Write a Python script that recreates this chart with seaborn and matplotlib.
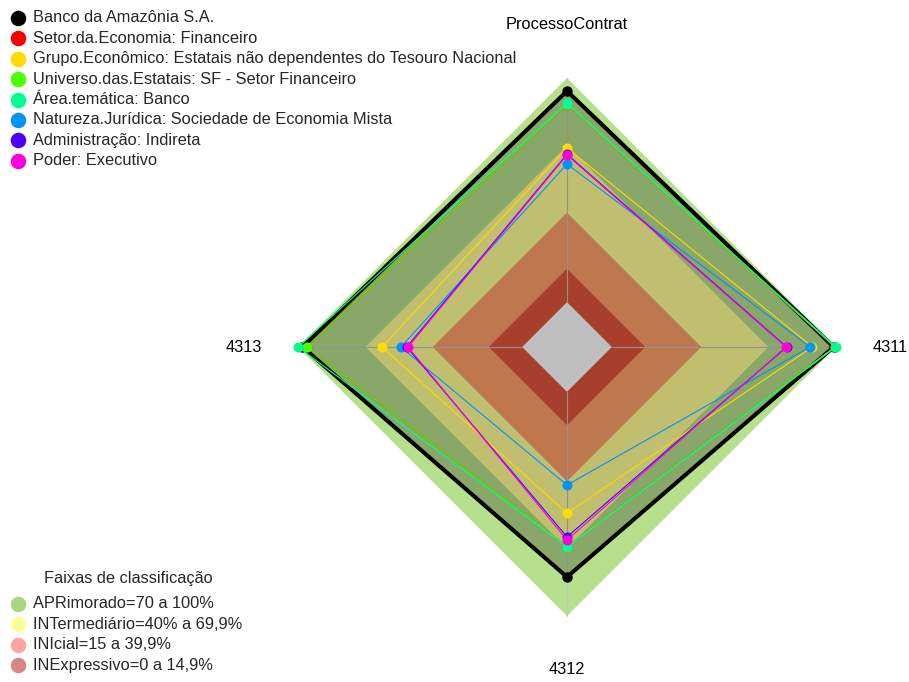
import numpy as np
import pandas as pd
import matplotlib
matplotlib.use("Agg")
import matplotlib.pyplot as plt
import seaborn as sns

# Eixos do radar (sentido horário a partir do topo)
eixos = ["ProcessoContrat", "4311", "4312", "4313"]

# Séries comparadas (percentual de atendimento por eixo)
nomes_series = [
    "Banco da Amazônia S.A.",
    "Setor.da.Economia: Financeiro",
    "Grupo.Econômico: Estatais não dependentes do Tesouro Nacional",
    "Universo.das.Estatais: SF - Setor Financeiro",
    "Área.temática: Banco",
    "Natureza.Jurídica: Sociedade de Economia Mista",
    "Administração: Indireta",
    "Poder: Executivo",
]
banco_amazonia = [94.2, 99.0, 82.6, 98.0]
setor_economia = [88.4, 99.5, 69.0, 96.0]
grupo_economico = [68.8, 89.5, 54.1, 62.5]
universo_estatais = [88.4, 99.5, 69.0, 96.0]
area_tematica = [88.8, 100.0, 69.2, 100.0]
natureza_juridica = [61.6, 88.4, 41.6, 54.1]
administracao = [66.0, 78.0, 64.7, 51.5]
poder = [65.6, 77.7, 66.1, 50.9]
valores_series = [banco_amazonia, setor_economia, grupo_economico, universo_estatais,
                  area_tematica, natureza_juridica, administracao, poder]
cores_series = ["#000000", "#FF0000", "#FFDB00", "#49FF00",
                "#00FF92", "#0092FF", "#4900FF", "#FF00DB"]

# Faixas de classificação
faixas_nomes = ["APRimorado=70 a 100%", "INTermediário=40% a 69,9%",
                "INIcial=15 a 39,9%", "INExpressivo=0 a 14,9%"]
faixas_limites = [100, 69.9, 39.9, 14.9]
faixas_cores = ["#B6E08B", "#FFFF95", "#FFA06B", "#E0553B"]
faixas_cores_legenda = ["#A9D77F", "#FFFF99", "#FFA3A3", "#D98686"]

sns.set_theme(style="white")
plt.rcParams["font.family"] = ["Liberation Sans", "DejaVu Sans"]

W, H = 909, 682
CX, CY, R = 567, 347, 269          # centro e raio do radar em pixels
SEG = 5                            # segmentos do eixo (centro vazio = 1/(SEG+1))
FS = 11.8

fig = plt.figure(figsize=(W / 100, H / 100), dpi=100)
ax = fig.add_axes([0, 0, 1, 1])


def raio(v):
    v = np.asarray(v, dtype=float)
    return (1 + SEG * v / 100) / (SEG + 1)


n = len(eixos)
theta = np.pi / 2 - np.arange(n) * 2 * np.pi / n


def xy(valores):
    r = raio(valores)
    return r * np.cos(theta), r * np.sin(theta)


def px(x, y):
    return (x - CX) / R, (CY - y) / R


# Faixas de fundo
for lim, cor in zip(faixas_limites, faixas_cores):
    x, y = xy([lim] * n)
    ax.fill(x, y, color=cor, lw=0, zorder=1)
x0, y0 = xy([0] * n)
ax.fill(x0, y0, color="white", lw=0, zorder=1)

# Eixos
r0 = raio(0)
for t in theta:
    ax.plot([r0 * np.cos(t), np.cos(t)], [r0 * np.sin(t), np.sin(t)],
            color="#C4C4C4", lw=0.8, zorder=2)

# Preenchimento da série principal
xb, yb = xy(banco_amazonia)
ax.fill(xb, yb, color="black", alpha=0.25, lw=0, zorder=3)

# Linhas e pontos das séries
linhas = []
for nome, vals in zip(nomes_series, valores_series):
    x, y = xy(vals)
    for xi, yi, eixo in zip(x, y, eixos):
        linhas.append({"serie": nome, "eixo": eixo, "x": xi, "y": yi})
df = pd.DataFrame(linhas)

for i, (nome, cor) in enumerate(zip(nomes_series, cores_series)):
    sub = df[df["serie"] == nome]
    xs = np.append(sub["x"].values, sub["x"].values[0])
    ys = np.append(sub["y"].values, sub["y"].values[0])
    lw = 2.9 if i == 0 else 0.8
    ax.plot(xs, ys, color=cor, lw=lw, zorder=4 + 2 * i, solid_joinstyle="miter")
    sns.scatterplot(data=sub, x="x", y="y", color=cor, s=56 if i == 0 else 52,
                    linewidth=0, ax=ax, zorder=5 + 2 * i, legend=False)

ax.set_xlim(-CX / R, (W - CX) / R)
ax.set_ylim(-(H - CY) / R, CY / R)
ax.axis("off")

# Rótulos dos eixos
for t, rot in zip(theta, eixos):
    ax.text(1.2 * np.cos(t), 1.2 * np.sin(t), rot, ha="center", va="center",
            fontsize=FS, color="black", zorder=30)

# Legenda das séries
for i, (nome, cor) in enumerate(zip(nomes_series, cores_series)):
    py = 18 + i * 20.4
    mx, my = px(18, py)
    tx, ty = px(33, py)
    ax.scatter([mx], [my], s=125, color=cor, lw=0, zorder=30, clip_on=False)
    ax.text(tx, ty, nome, ha="left", va="center", fontsize=FS, zorder=30)

# Legenda das faixas
ttx, tty = px(128, 578)
ax.text(ttx, tty, "Faixas de classificação", ha="center", va="center",
        fontsize=FS, zorder=30)
for i, (nome, cor) in enumerate(zip(faixas_nomes, faixas_cores_legenda)):
    py = 604 + i * 20.4
    mx, my = px(18, py)
    tx, ty = px(33, py)
    ax.scatter([mx], [my], s=125, color=cor, lw=0, zorder=30, clip_on=False)
    ax.text(tx, ty, nome, ha="left", va="center", fontsize=FS, zorder=30)

fig.savefig("out.png", dpi=100)
